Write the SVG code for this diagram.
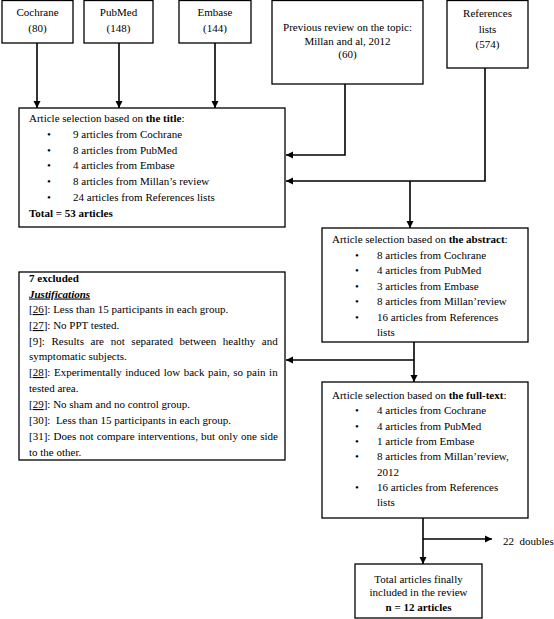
<svg xmlns="http://www.w3.org/2000/svg" width="554" height="619" viewBox="0 0 554 619">
<style>
.box{fill:#fff;stroke:#000;stroke-width:1.3}
.c{fill:none;stroke:#000;stroke-width:1.6}
text{font-family:"Liberation Serif","Times New Roman",serif;font-size:11px;fill:#000}
.m{text-anchor:middle}
.b{font-weight:bold}
.u{text-decoration:underline}
</style>
<defs>
<marker id="ah" viewBox="0 0 10 10" refX="10" refY="5" markerWidth="4.5" markerHeight="4.5" orient="auto" markerUnits="strokeWidth">
<path d="M0,0 L10,5 L0,10 Z" fill="#000"/>
</marker>
</defs>
<rect width="554" height="619" fill="#fff"/>
<g id="connectors">
<path class="c" d="M37,43 V108" marker-end="url(#ah)"/>
<path class="c" d="M119,43 V108" marker-end="url(#ah)"/>
<path class="c" d="M215,43 V108" marker-end="url(#ah)"/>
<path class="c" d="M345,84 V155 H286" marker-end="url(#ah)"/>
<path class="c" d="M485,68 V181 H286" marker-end="url(#ah)"/>
<path class="c" d="M410,181 V228" marker-end="url(#ah)"/>
<path class="c" d="M414,342 V382" marker-end="url(#ah)"/>
<path class="c" d="M414,360 H286" marker-end="url(#ah)"/>
<path class="c" d="M423,518 V564" marker-end="url(#ah)"/>
<path class="c" d="M423,539 H492" marker-end="url(#ah)"/>
</g>
<g id="cochrane">
<rect class="box" x="2" y="0.5" width="71" height="42.5"/>
<text class="m" x="37.5" y="16">Cochrane</text>
<text class="m" x="37.5" y="31.5">(80)</text>
</g>
<g id="pubmed">
<rect class="box" x="84" y="0.5" width="69" height="42.5"/>
<text class="m" x="118.5" y="16">PubMed</text>
<text class="m" x="118.5" y="31.5">(148)</text>
</g>
<g id="embase">
<rect class="box" x="179" y="0.5" width="72" height="42.5"/>
<text class="m" x="215" y="16">Embase</text>
<text class="m" x="215" y="31.5">(144)</text>
</g>
<g id="millan">
<rect class="box" x="272" y="0.5" width="151" height="83.5"/>
<text class="m" x="347.5" y="30.5">Previous review on the topic:</text>
<text class="m" x="347.5" y="45">Millan and al, 2012</text>
<text class="m" x="347.5" y="58">(60)</text>
</g>
<g id="references">
<rect class="box" x="447" y="0.5" width="81" height="67.5"/>
<text class="m" x="487.5" y="16.5">References</text>
<text class="m" x="487.5" y="32.5">lists</text>
<text class="m" x="487.5" y="47.5">(574)</text>
</g>
<g id="title-selection">
<rect class="box" x="19" y="108" width="266" height="119"/>
<text x="29" y="122">Article selection based on <tspan class="b">the title</tspan>:</text>
<text x="47" y="138">•</text><text x="73" y="138">9 articles from Cochrane</text>
<text x="47" y="153.5">•</text><text x="73" y="153.5">8 articles from PubMed</text>
<text x="47" y="169">•</text><text x="73" y="169">4 articles from Embase</text>
<text x="47" y="185">•</text><text x="73" y="185">8 articles from Millan’s review</text>
<text x="47" y="201">•</text><text x="73" y="201">24 articles from References lists</text>
<text class="b" x="29" y="217">Total = 53 articles</text>
</g>
<g id="abstract-selection">
<rect class="box" x="322" y="228" width="206" height="114"/>
<text x="332" y="243">Article selection based on <tspan class="b">the abstract</tspan>:</text>
<text x="355" y="258.5">•</text><text x="377" y="258.5">8 articles from Cochrane</text>
<text x="355" y="274">•</text><text x="377" y="274">4 articles from PubMed</text>
<text x="355" y="289.5">•</text><text x="377" y="289.5">3 articles from Embase</text>
<text x="355" y="305">•</text><text x="377" y="305">8 articles from Millan’review</text>
<text x="355" y="320.5">•</text><text x="377" y="320.5">16 articles from References</text>
<text x="377" y="336">lists</text>
</g>
<g id="excluded">
<rect class="box" x="19" y="272" width="266" height="188"/>
<text class="b" x="29" y="282">7 excluded</text>
<text x="29" y="297.5" font-style="italic" font-weight="bold" text-decoration="underline">Justifications</text>
<text x="29" y="313">[<tspan class="u">26</tspan>]: Less than 15 participants in each group.</text>
<text x="29" y="329">[<tspan class="u">27</tspan>]: No PPT tested.</text>
<text x="29" y="344.5" style="word-spacing:3.9px">[9]: Results are not separated between healthy and</text>
<text x="29" y="360">symptomatic subjects.</text>
<text x="29" y="376" style="word-spacing:0.8px">[<tspan class="u">28</tspan>]: Experimentally induced low back pain, so pain in</text>
<text x="29" y="392">tested area.</text>
<text x="29" y="408">[<tspan class="u">29</tspan>]: No sham and no control group.</text>
<text x="29" y="424">[30]:&#160; Less than 15 participants in each group.</text>
<text x="29" y="440" style="word-spacing:0.45px">[31]: Does not compare interventions, but only one side</text>
<text x="29" y="455.5">to the other.</text>
</g>
<g id="fulltext-selection">
<rect class="box" x="322" y="382" width="206" height="136"/>
<text x="332" y="398.5">Article selection based on <tspan class="b">the full-text</tspan>:</text>
<text x="355" y="414">•</text><text x="377" y="414">4 articles from Cochrane</text>
<text x="355" y="429.5">•</text><text x="377" y="429.5">4 articles from PubMed</text>
<text x="355" y="445">•</text><text x="377" y="445">1 article from Embase</text>
<text x="355" y="460">•</text><text x="377" y="460">8 articles from Millan’review,</text>
<text x="377" y="475.5">2012</text>
<text x="355" y="491">•</text><text x="377" y="491">16 articles from References</text>
<text x="377" y="506">lists</text>
</g>
<g id="doubles">
<text x="503" y="544.5">22&#160; doubles</text>
</g>
<g id="final">
<rect class="box" x="355" y="564" width="127" height="54"/>
<text class="m" x="418.5" y="582.5">Total articles finally</text>
<text class="m" x="418.5" y="596">included in the review</text>
<text class="m b" x="418.5" y="610.5">n = 12 articles</text>
</g>
</svg>
